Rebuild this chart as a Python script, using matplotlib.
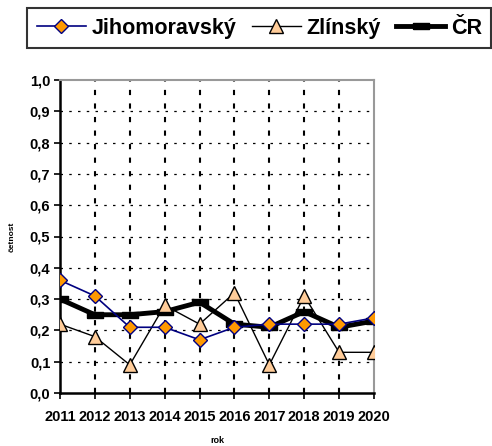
import matplotlib
matplotlib.use("Agg")
import matplotlib.pyplot as plt
from matplotlib.lines import Line2D

years = ["2011", "2012", "2013", "2014", "2015", "2016", "2017", "2018", "2019", "2020"]
jihomoravsky = [0.36, 0.31, 0.21, 0.21, 0.17, 0.21, 0.22, 0.22, 0.22, 0.24]
zlinsky = [0.22, 0.18, 0.09, 0.28, 0.22, 0.32, 0.09, 0.31, 0.13, 0.13]
cr = [0.30, 0.25, 0.25, 0.26, 0.29, 0.22, 0.21, 0.26, 0.21, 0.23]
yticks = [0.0, 0.1, 0.2, 0.3, 0.4, 0.5, 0.6, 0.7, 0.8, 0.9, 1.0]
ytick_labels = ["0,0", "0,1", "0,2", "0,3", "0,4", "0,5", "0,6", "0,7", "0,8", "0,9", "1,0"]

plt.rcParams['font.family'] = ['Liberation Sans', 'DejaVu Sans']

fig = plt.figure(figsize=(4.92, 4.46), dpi=100)
ax = fig.add_axes([60/492, 1-393/446, (374-60)/492, (393-80)/446])

x = list(range(len(years)))
dash_marker = [(-1, -0.33), (1, -0.33), (1, 0.33), (-1, 0.33), (-1, -0.33)]

ax.plot(x, cr, color='black', lw=3.5, marker=dash_marker, ms=11, mfc='black', mec='black', zorder=3, solid_joinstyle='miter')
ax.plot(x, zlinsky, color='black', lw=1.0, marker='^', ms=10, mfc='#FFCC99', mec='black', mew=1.0, zorder=4)
ax.plot(x, jihomoravsky, color='#000080', lw=1.2, marker='D', ms=7, mfc='#FF9900', mec='#000080', mew=1.0, zorder=5)

ax.set_xlim(0, len(years)-1)
ax.set_ylim(0, 1.0)
ax.set_xticks(x)
ax.set_xticklabels(years, fontsize=10.5, fontweight='bold')
ax.set_yticks(yticks)
ax.set_yticklabels(ytick_labels, fontsize=10.5, fontweight='bold')
ax.tick_params(axis='both', direction='out', length=4, width=1.2, color='black', pad=3)
ax.tick_params(axis='x', pad=8)

for xi in x[1:-1]:
    ax.axvline(xi, color='black', lw=1.5, ls=(0, (2.5, 4)), zorder=1)
for yi in yticks[1:-1]:
    ax.axhline(yi, color='black', lw=0.9, ls=(0, (2, 5)), zorder=1)

ax.spines['left'].set_linewidth(1.8)
ax.spines['bottom'].set_linewidth(1.8)
ax.spines['top'].set_color('#999999')
ax.spines['right'].set_color('#999999')
ax.spines['top'].set_linewidth(1.5)
ax.spines['right'].set_linewidth(1.5)

ax.set_xlabel('rok', fontsize=6.5, fontweight='bold', labelpad=9)
ax.set_ylabel('četnost', fontsize=6, fontweight='bold', labelpad=10)

handles = [
    Line2D([], [], color='#000080', lw=1.2, marker='D', ms=7, mfc='#FF9900', mec='#000080'),
    Line2D([], [], color='black', lw=1.0, marker='^', ms=10, mfc='#FFCC99', mec='black'),
    Line2D([], [], color='black', lw=3.5, marker=dash_marker, ms=11, mfc='black', mec='black'),
]
leg = fig.legend(handles, ['Jihomoravský', 'Zlínský', 'ČR'], loc='upper left',
                 bbox_to_anchor=(27/492, 1-8/446), ncol=3, frameon=True, fancybox=False,
                 prop={'size': 15.5, 'weight': 'bold'}, handlelength=2.3, handletextpad=0.25,
                 columnspacing=0.7, borderpad=0.45, borderaxespad=0, edgecolor='black')
leg.get_frame().set_linewidth(1.5)

fig.savefig('out.png', dpi=100)
